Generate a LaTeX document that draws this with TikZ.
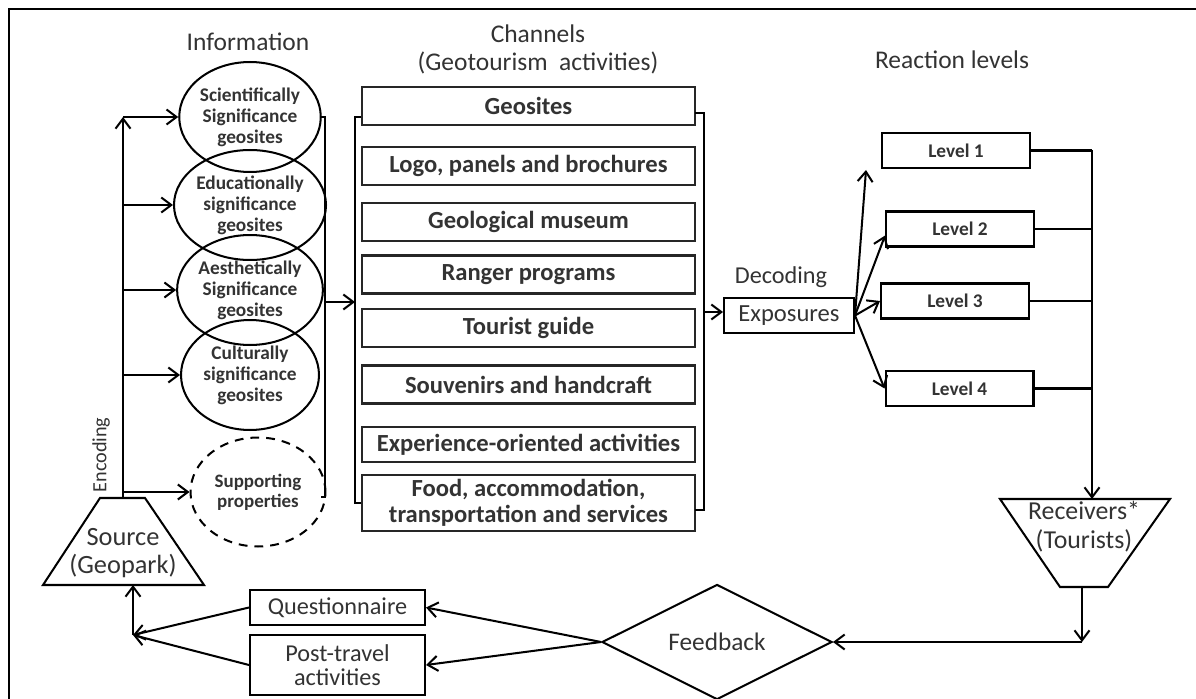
\documentclass[tikz,border=0pt]{standalone}
\usepackage{fontspec}
\setmainfont{Carlito}
\usetikzlibrary{shapes.geometric,arrows.meta,positioning}

\begin{document}
\begin{tikzpicture}[x=0.02cm,y=-0.02cm,->,>={Straight Barb[length=2mm,width=3mm]},line width=1.15pt,
	info/.style={shape=ellipse, draw=black, minimum width=2.76cm, minimum height=2.2cm, inner sep=0pt, align=center, text=black!80, font=\fontsize{11}{12}\selectfont\bfseries},
	chan/.style={shape=rectangle, draw=black!85, minimum width=6.66cm, minimum height=0.76cm, inner sep=0pt, align=center, text=black!80, font=\fontsize{14}{14.5}\selectfont\bfseries},
	lvl/.style={shape=rectangle, draw=black, minimum width=2.96cm, minimum height=0.7cm, inner sep=0pt, text=black!80, font=\fontsize{11}{13}\selectfont\bfseries},
	box/.style={shape=rectangle, draw=black, minimum width=3.5cm, minimum height=0.7cm, inner sep=0pt, align=center, text=black!80, font=\fontsize{13.8}{13.6}\selectfont},
	title/.style={align=center, text=black!80, font=\fontsize{14.5}{16}\selectfont},
	empty/.style={}]

	% frame
	\useasboundingbox (0,0) rectangle (1196,699);
	\draw[-,line width=1.7pt] (9,699) -- (9,9) -- (1196,9);

	% headings
	\node[title] (hinfo) at (248,42) {Information};
	\node[title] (hchan) at (538,49) {Channels\\(Geotourism\ \ activities)};
	\node[title] (hreact) at (952,60) {Reaction levels};
	\node[title,font=\fontsize{13.8}{16}\selectfont] (hdec) at (781,277) {Decoding};

	% information
	\node[info] (sci) at (250,117) {Scientifically\\Significance\\geosites};
	\node[info] (edu) at (250,205) {Educationally\\significance\\geosites};
	\node[info] (aes) at (250,290) {Aesthetically\\Significance\\geosites};
	\node[info] (cul) at (250,375) {Culturally\\significance\\geosites};
	\node[info,dash pattern=on 5pt off 4pt,minimum width=2.7cm,minimum height=2.18cm,
		font=\fontsize{10.8}{11.5}\selectfont\bfseries] (sup) at (258,492) {Supporting\\properties};

	% source
	\draw[-] (43,585) -- (100,498) -- (145,498) -- (204,585) -- cycle;
	\coordinate (srctop) at (123,498);
	\coordinate (srcbot) at (133,585);
	\node[title,font=\fontsize{15}{16.4}\selectfont] (src) at (123,553) {Source\\(Geopark)};
	\node[rotate=90,text=black!80,font=\fontsize{11.5}{13}\selectfont] (enc) at (101,455) {Encoding};

	% channels
	\node[chan] (geo) at (528.5,106) {Geosites};
	\node[chan] (logo) at (528.5,166) {Logo, panels and brochures};
	\node[chan] (mus) at (528.5,222) {Geological museum};
	\node[chan] (rng) at (528.5,274.5) {Ranger programs};
	\node[chan] (tour) at (528.5,328) {Tourist guide};
	\node[chan] (souv) at (528.5,384.5) {Souvenirs and handcraft};
	\node[chan,minimum height=0.7cm] (xp) at (528.5,444.5) {Experience-oriented activities};
	\node[chan,minimum height=1.12cm] (food) at (528.5,503) {Food, accommodation,\\transportation and services};

	% decoding and levels
	\node[lvl,minimum width=2.6cm,font=\fontsize{14}{15}\selectfont] (expo) at (789,315.5) {Exposures};
	\node[lvl] (l1) at (956,150.5) {Level 1};
	\node[lvl] (l2) at (960,229) {Level 2};
	\node[lvl] (l3) at (955,301) {Level 3};
	\node[lvl] (l4) at (959.5,388.5) {Level 4};

	% receivers
	\draw[-] (1000,499) -- (1170,499) -- (1108,587) -- (1060,587) -- cycle;
	\coordinate (rcvtop) at (1092,499);
	\coordinate (rcvbot) at (1082,587);
	\node[title,font=\fontsize{14.7}{16.4}\selectfont] (rcv) at (1084,527) {Receivers*\\(Tourists)};

	% feedback
	\node[shape=diamond,draw=black,minimum width=4.6cm,minimum height=1.84cm,inner sep=0pt,
		text=black!80,font=\fontsize{14.4}{15}\selectfont] (fbk) at (717,642) {Feedback};
	\node[box] (qst) at (337.5,607.5) {Questionnaire};
	\node[box,minimum height=1.2cm] (post) at (337.5,665) {Post-travel\\activities};

	\coordinate (up) at (866,170);
	\coordinate (col) at (1092,150.5);
	\coordinate (fb) at (133,635);
	\coordinate (ib) at (325,302);
	\coordinate (cb) at (355,302);
	\coordinate (rb) at (704,312);

	% brackets
	\draw[-] (321,117) -- (325,117) -- (325,497) -- (321,497);
	\draw[-] (361,117) -- (355,117) -- (355,503) -- (361,503);
	\draw[-] (695,113) -- (704,113) -- (704,510) -- (695,510);

	\path
	(srctop) edge (srctop |- sci.west)
	(srctop |- sci.west) edge (sci)
	(srctop |- edu.west) edge (edu)
	(srctop |- aes.west) edge (aes)
	(srctop |- cul.west) edge (cul)
	(srctop |- sup.west) edge (sup)
	(ib) edge (cb)
	(rb) edge (rb -| expo.west)
	(expo.east) edge (up)
	(expo.east) edge (l2.185)
	(expo.east) edge (l3.west)
	(expo.east) edge (l4.west);

	% collecting the levels
	\draw[-] (l1.east) -- (col);
	\draw[-] (l2.east) -- (l2.east -| col);
	\draw[-] (l3.east) -- (l3.east -| col);
	\draw[-] (l4.east) -- (l4.east -| col);
	\draw[->] (col) -- (rcvtop);

	% feedback loop
	\draw[->] (rcvbot) -- (rcvbot |- fbk.east) coordinate (rc);
	\draw[->] (rc) -- (fbk.east);
	\path
	(fbk.west) edge (qst.east)
	(fbk.west) edge (post.east)
	(qst.west) edge (fb)
	(post.west) edge (fb)
	(fb) edge (srcbot);
\end{tikzpicture}
\end{document}
